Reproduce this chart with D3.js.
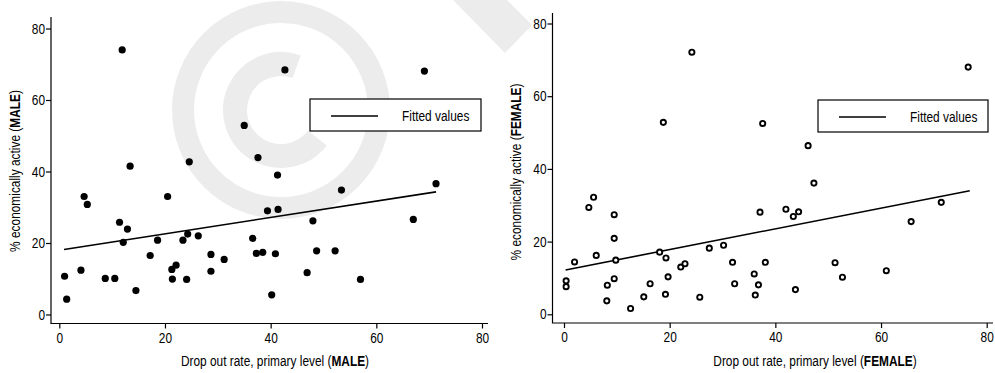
<!DOCTYPE html>
<html>
<head>
<meta charset="utf-8">
<script src="https://cdn.jsdelivr.net/npm/d3@7"></script>
<style>
  body { margin: 0; background: #fff; }
  svg text { font-family: "Liberation Sans", Arial, sans-serif; fill: #000; }
</style>
</head>
<body>
<div id="chart"></div>
<script>
// Values
const maleX = [11.9, 13.4, 24.6, 35.0, 42.7, 69.1, 37.6, 41.3, 71.3, 53.4,
               4.7, 5.3, 20.5, 11.4, 12.9, 12.1, 18.6, 23.4, 24.3, 26.3,
               17.2, 28.7, 31.2, 28.7, 22.1, 21.3, 21.4, 24.1, 1.0, 4.1,
               1.4, 8.7, 10.5, 14.5, 39.4, 41.4, 48.0, 67.0, 36.6, 37.3,
               38.5, 40.9, 48.7, 52.2, 46.9, 57.0, 40.2];
const maleY = [74.0, 41.5, 42.7, 52.9, 68.4, 68.1, 43.9, 39.0, 36.6, 34.8,
               33.0, 30.8, 33.0, 25.8, 23.9, 20.2, 20.8, 20.8, 22.5, 22.0,
               16.5, 16.8, 15.4, 12.1, 13.8, 12.6, 9.9, 9.8, 10.7, 12.4,
               4.3, 10.1, 10.1, 6.7, 29.0, 29.4, 26.2, 26.6, 21.3, 17.1,
               17.4, 17.0, 17.8, 17.8, 11.7, 9.8, 5.5];

const femaleX = [24.2, 18.8, 76.5, 37.6, 46.2, 47.3, 5.6, 4.7, 9.5, 9.5,
                 6.1, 2.0, 9.8, 18.1, 19.3, 27.5, 30.2, 22.1, 22.9, 31.9,
                 19.7, 9.5, 0.4, 0.4, 8.2, 16.3, 32.3, 8.1, 15.1, 19.2,
                 25.7, 12.6, 37.1, 42.0, 43.4, 44.4, 65.7, 71.4, 38.1, 36.0,
                 36.8, 36.2, 43.8, 51.3, 52.7, 61.0];
const femaleY = [72.1, 52.8, 68.0, 52.5, 46.4, 36.1, 32.2, 29.4, 27.4, 20.9,
                 16.2, 14.4, 14.9, 17.1, 15.5, 18.2, 19.0, 13.0, 13.9, 14.3,
                 10.3, 9.8, 9.2, 7.6, 8.0, 8.4, 8.4, 3.7, 4.8, 5.5,
                 4.7, 1.6, 28.1, 28.9, 26.9, 28.2, 25.5, 30.8, 14.3, 11.1,
                 8.1, 5.3, 6.8, 14.2, 10.2, 12.0];

// Fitted values line (end points)
const maleFitX = [0.9, 71.3];
const maleFitY = [18.2, 34.3];
const femaleFitX = [0.3, 76.8];
const femaleFitY = [12.2, 34.0];

const ticks = [0, 20, 40, 60, 80];
const legendLabel = "Fitted values";

const width = 995, height = 373;
const narrow = 0.82; // squeeze text to look like Arial Narrow

const svg = d3.select("#chart").append("svg")
    .attr("width", width)
    .attr("height", height);

// Faint copyright watermark behind the charts
const wm = svg.append("g").attr("fill", "none").attr("stroke", "#ececec");
wm.append("circle").attr("cx", 281).attr("cy", 110).attr("r", 98).attr("stroke-width", 22);
wm.append("path")
    .attr("stroke-width", 24)
    .attr("d", d3.arc()({ innerRadius: 46, outerRadius: 46, startAngle: 2.23, endAngle: 6.63 }))
    .attr("transform", "translate(281,110)");
svg.append("path")
    .attr("fill", "#ececec")
    .attr("d", "M453,0L507,0L532,25L505,53Z");

// narrow text helper: g translated to (x,y), text squeezed horizontally
function narrowText(parent, x, y, rotate) {
    return parent.append("g")
        .attr("transform", `translate(${x},${y})` + (rotate ? ` rotate(${rotate})` : "") + ` scale(${narrow},1)`)
        .append("text");
}

const panels = [
    { xs: maleX, ys: maleY, fx: maleFitX, fy: maleFitY, sex: "MALE", hollow: false,
      x0: 59.3, x1: 482, y0: 314.5, y1: 28.5, axisX: 51, axisTop: 17, axisBottom: 323.5, axisRight: 488,
      legend: { x: 310, y: 99, w: 171, h: 32 }, xTitle: 275, yTitle: 171, yTitleX: 15 },
    { xs: femaleX, ys: femaleY, fx: femaleFitX, fy: femaleFitY, sex: "FEMALE", hollow: true,
      x0: 564, x1: 986.7, y0: 314.3, y1: 23.5, axisX: 552.5, axisTop: 13, axisBottom: 323, axisRight: 993,
      legend: { x: 818, y: 100, w: 170, h: 32 }, xTitle: 815, yTitle: 172, yTitleX: 516 }
];

panels.forEach(function(p) {
    const x = d3.scaleLinear([0, 80], [p.x0, p.x1]);
    const y = d3.scaleLinear([0, 80], [p.y0, p.y1]);
    const g = svg.append("g");

    // Axis lines
    g.append("path")
        .attr("fill", "none")
        .attr("stroke", "#000")
        .attr("stroke-width", 1.2)
        .attr("d", `M${p.axisX},${p.axisTop}V${p.axisBottom}H${p.axisRight}`);

    // Y axis
    const yAxis = g.append("g")
        .attr("transform", `translate(${p.axisX},0)`)
        .call(d3.axisLeft(y).tickValues(ticks).tickSize(5).tickPadding(1).tickFormat(d3.format("d")));
    yAxis.selectAll("text").attr("x", -6 / narrow);
    // X axis
    const xAxis = g.append("g")
        .attr("transform", `translate(0,${p.axisBottom})`)
        .call(d3.axisBottom(x).tickValues(ticks).tickSize(5).tickPadding(4).tickFormat(d3.format("d")));
    [yAxis, xAxis].forEach(function(a) {
        a.select(".domain").remove();
        a.selectAll("line").attr("stroke", "#000").attr("stroke-width", 1.2);
        a.selectAll("text")
            .attr("font-size", 14.5)
            .attr("font-family", null)
            .attr("transform", `scale(${narrow},1)`);
    });

    // Fitted line
    g.append("line")
        .attr("x1", x(p.fx[0])).attr("y1", y(p.fy[0]))
        .attr("x2", x(p.fx[1])).attr("y2", y(p.fy[1]))
        .attr("stroke", "#000")
        .attr("stroke-width", 1.6);

    // Points
    g.append("g")
        .selectAll("circle")
        .data(d3.range(p.xs.length))
        .join("circle")
        .attr("cx", i => x(p.xs[i]))
        .attr("cy", i => y(p.ys[i]))
        .attr("r", p.hollow ? 2.6 : 3.6)
        .attr("fill", p.hollow ? "#fff" : "#000")
        .attr("stroke", p.hollow ? "#000" : "none")
        .attr("stroke-width", p.hollow ? 1.9 : 0);

    // Legend
    const lg = g.append("g").attr("transform", `translate(${p.legend.x},${p.legend.y})`);
    lg.append("rect")
        .attr("width", p.legend.w).attr("height", p.legend.h)
        .attr("fill", "#fff").attr("stroke", "#000").attr("stroke-width", 1.2);
    lg.append("line")
        .attr("x1", 21).attr("x2", 68).attr("y1", 17).attr("y2", 17)
        .attr("stroke", "#000").attr("stroke-width", 1.4);
    narrowText(lg, 92, 21.5)
        .attr("font-size", 14.5)
        .text(legendLabel);

    // X title
    const xt = narrowText(g, p.xTitle, 366)
        .attr("text-anchor", "middle")
        .attr("font-size", 14.5);
    xt.append("tspan").text("Drop out rate, primary level (");
    xt.append("tspan").attr("font-weight", "bold").text(p.sex);
    xt.append("tspan").text(")");

    // Y title
    const yt = narrowText(g, p.yTitleX, p.yTitle, -90)
        .attr("text-anchor", "middle")
        .attr("dy", "0.35em")
        .attr("font-size", 14.5);
    yt.append("tspan").text("% economically active (");
    yt.append("tspan").attr("font-weight", "bold").text(p.sex);
    yt.append("tspan").text(")");
});
</script>
</body>
</html>
